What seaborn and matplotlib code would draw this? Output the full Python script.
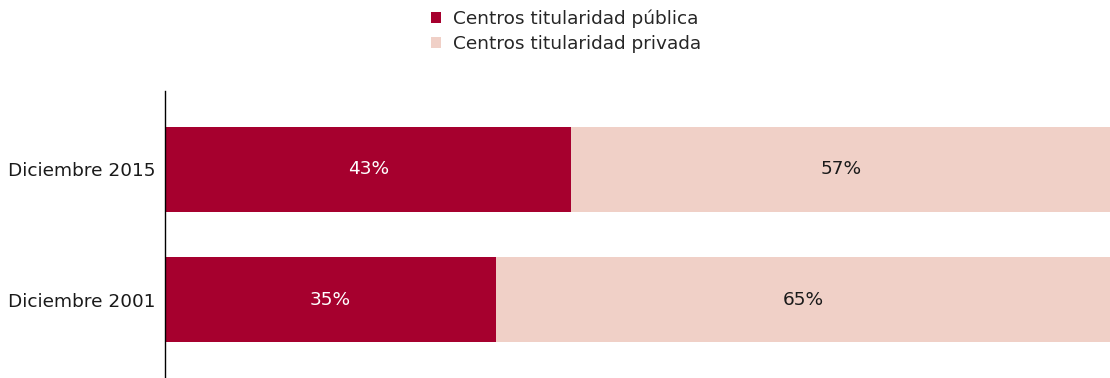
import matplotlib
matplotlib.use("Agg")
import matplotlib.pyplot as plt
import seaborn as sns
import pandas as pd
from matplotlib.patches import Patch

categories = ["Diciembre 2015", "Diciembre 2001"]
publica = [43, 35]
privada = [57, 65]
series_names = ["Centros titularidad pública", "Centros titularidad privada"]

c_pub = "#A6002E"
c_priv = "#F0D0C7"

sns.set_theme(style="white")
plt.rcParams["font.family"] = ["DejaVu Sans"]

FS = 13.3

df = pd.DataFrame({"cat": categories, "pub": publica, "priv": privada})
df["total"] = df["pub"] + df["priv"]

fig = plt.figure(figsize=(11.1, 3.78), dpi=100)
ax = fig.add_axes([165/1110, 0, 1 - 165/1110, 1 - 91/378])

sns.barplot(data=df, x="total", y="cat", orient="h", color=c_priv, width=0.65,
            saturation=1, ax=ax, order=categories, linewidth=0, edgecolor="none")
sns.barplot(data=df, x="pub", y="cat", orient="h", color=c_pub, width=0.65,
            saturation=1, ax=ax, order=categories, linewidth=0, edgecolor="none")

for i, (p, q) in enumerate(zip(publica, privada)):
    ax.text(p / 2, i, f"{p}%", ha="center", va="center", color="white", fontsize=FS)
    ax.text(p + q / 2, i, f"{q}%", ha="center", va="center", color="#1a1a1a", fontsize=FS)

ax.set_xlim(0, 100)
ax.set_ylim(1.6, -0.6)
ax.set_xlabel("")
ax.set_ylabel("")
ax.set_xticks([])
ax.tick_params(axis="y", length=0, labelsize=FS, pad=7, colors="#1a1a1a")
for s in ["top", "right", "bottom"]:
    ax.spines[s].set_visible(False)
ax.spines["left"].set_color("black")
ax.spines["left"].set_linewidth(1)

handles = [Patch(facecolor=c_pub, edgecolor="none"), Patch(facecolor=c_priv, edgecolor="none")]
fig.legend(handles, series_names, loc="upper left", bbox_to_anchor=(418/1110, 1.008),
           frameon=False, fontsize=FS, handlelength=0.55, handleheight=0.55,
           handletextpad=0.65, labelspacing=0.36, borderaxespad=0.3)

fig.savefig("out.png", dpi=100)
